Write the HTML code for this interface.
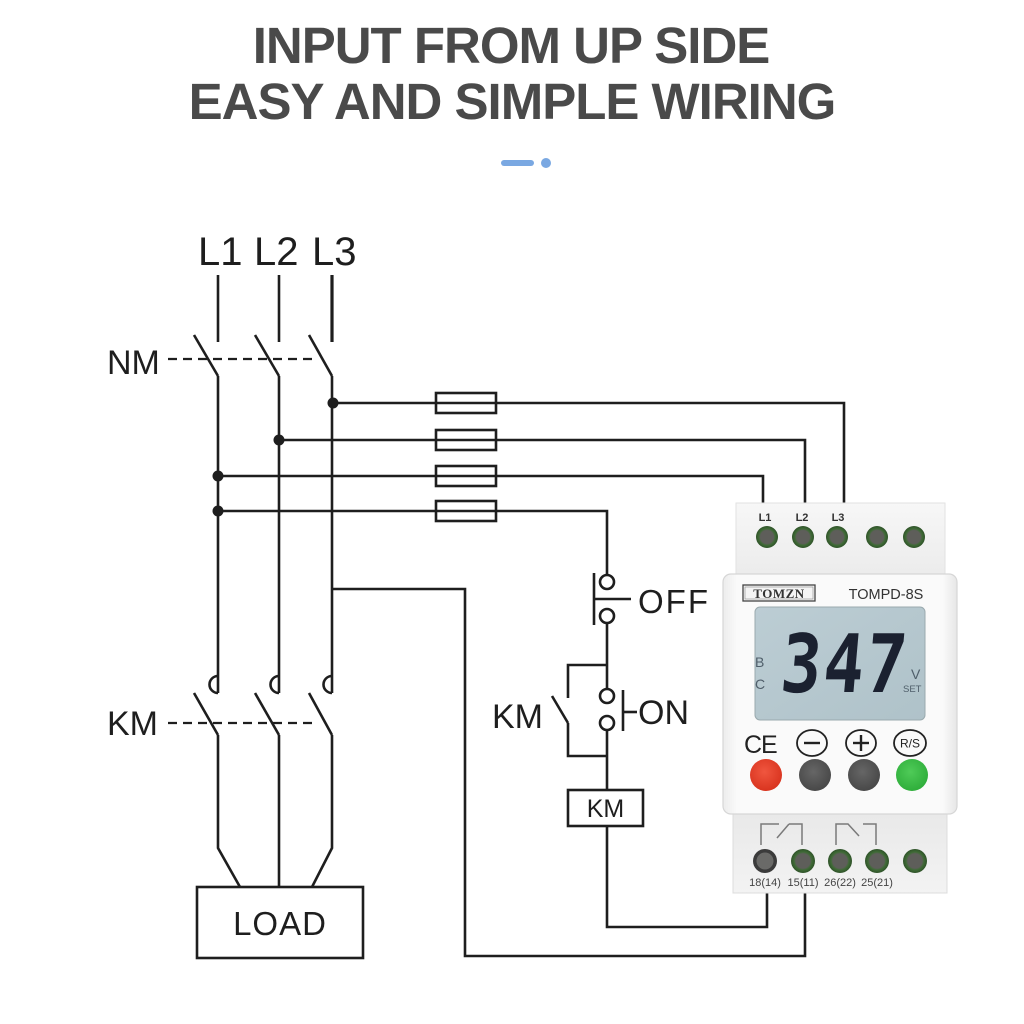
<!DOCTYPE html>
<html><head><meta charset="utf-8"><style>
html,body{margin:0;padding:0;background:#fff;}
svg{display:block;}
</style></head><body>
<svg width="1024" height="1024" viewBox="0 0 1024 1024" xmlns="http://www.w3.org/2000/svg">
<defs>
<linearGradient id="topg" x1="0" y1="0" x2="0" y2="1"><stop offset="0" stop-color="#f7f7f7"/><stop offset="1" stop-color="#ebebeb"/></linearGradient>
<linearGradient id="midg" x1="0" y1="0" x2="1" y2="0"><stop offset="0" stop-color="#ececec"/><stop offset="0.06" stop-color="#fafafa"/><stop offset="0.94" stop-color="#fafafa"/><stop offset="1" stop-color="#e6e6e6"/></linearGradient>
<linearGradient id="botg" x1="0" y1="0" x2="0" y2="1"><stop offset="0" stop-color="#e8e8e8"/><stop offset="1" stop-color="#f3f3f3"/></linearGradient>
<linearGradient id="lcdg" x1="0" y1="0" x2="1" y2="1"><stop offset="0" stop-color="#bccdd4"/><stop offset="1" stop-color="#afc2c9"/></linearGradient>
<radialGradient id="term" cx="0.5" cy="0.5" r="0.5"><stop offset="0.6" stop-color="#5e5e5a"/><stop offset="0.75" stop-color="#3f6b36"/><stop offset="1" stop-color="#2f5229"/></radialGradient>
<radialGradient id="redb" cx="0.45" cy="0.4" r="0.6"><stop offset="0" stop-color="#f0563f"/><stop offset="1" stop-color="#d9341f"/></radialGradient>
<radialGradient id="grayb" cx="0.45" cy="0.4" r="0.6"><stop offset="0" stop-color="#666"/><stop offset="1" stop-color="#484848"/></radialGradient>
<radialGradient id="greenb" cx="0.45" cy="0.4" r="0.6"><stop offset="0" stop-color="#4fcb58"/><stop offset="1" stop-color="#2fae3b"/></radialGradient>
</defs>

<!-- Header -->
<g font-family="'Liberation Sans', Arial, sans-serif" font-weight="bold" fill="#4a4a4a" text-anchor="middle" letter-spacing="-1">
<text x="511" y="63" font-size="51">INPUT FROM UP SIDE</text>
<text x="512" y="119" font-size="51">EASY AND SIMPLE WIRING</text>
</g>
<rect x="501" y="160" width="33" height="6" rx="3" fill="#7aa8e2"/>
<circle cx="546" cy="163" r="5" fill="#7aa8e2"/>

<!-- Labels -->
<g font-family="'Liberation Sans', Arial, sans-serif" fill="#1e1e1e">
<text x="198" y="265" font-size="40">L1</text>
<text x="254" y="265" font-size="40">L2</text>
<text x="312" y="265" font-size="40">L3</text>
<text x="107" y="374" font-size="34">NM</text>
<text x="107" y="735" font-size="34">KM</text>
<text x="492" y="728" font-size="34">KM</text>
<text x="638" y="613" font-size="33" letter-spacing="2">OFF</text>
<text x="638" y="724" font-size="34">ON</text>
<text x="280" y="935" font-size="33" text-anchor="middle" letter-spacing="1">LOAD</text>
<text x="605.5" y="817" font-size="25" text-anchor="middle">KM</text>
</g>

<!-- Wiring -->
<g stroke="#1e1e1e" stroke-width="2.6" fill="none" stroke-linejoin="miter">
<!-- L1 -->
<line x1="218" y1="275" x2="218" y2="342"/>
<line x1="194" y1="335" x2="218" y2="376"/>
<line x1="218" y1="376" x2="218" y2="693"/>
<path d="M218 676 A8.5 8.5 0 0 0 218 693"/>
<line x1="194" y1="693" x2="218" y2="735"/>
<polyline points="218,735 218,848 240,887"/>
<!-- L2 -->
<line x1="279" y1="275" x2="279" y2="342"/>
<line x1="255" y1="335" x2="279" y2="376"/>
<line x1="279" y1="376" x2="279" y2="693"/>
<path d="M279 676 A8.5 8.5 0 0 0 279 693"/>
<line x1="255" y1="693" x2="279" y2="735"/>
<line x1="279" y1="735" x2="279" y2="887"/>
<!-- L3 -->
<line x1="332" y1="275" x2="332" y2="342" stroke-width="3.2"/>
<line x1="309" y1="335" x2="332" y2="376"/>
<line x1="332" y1="376" x2="332" y2="693"/>
<path d="M332 676 A8.5 8.5 0 0 0 332 693"/>
<line x1="309" y1="693" x2="332" y2="735"/>
<polyline points="332,735 332,848 312,887"/>
<!-- dashed mech links -->
<line x1="168" y1="359" x2="318" y2="359" stroke-width="2.2" stroke-dasharray="9,6"/>
<line x1="168" y1="723" x2="318" y2="723" stroke-width="2.2" stroke-dasharray="9,6"/>
<!-- LOAD box -->
<rect x="197" y="887" width="166" height="71"/>
<!-- feed lines -->
<polyline points="333,403 844,403 844,505"/>
<polyline points="279,440 805,440 805,505"/>
<polyline points="218,476 763,476 763,505"/>
<polyline points="218,511 607,511 607,575"/>
<!-- fuses -->
<rect x="436" y="393" width="60" height="20"/>
<rect x="436" y="430" width="60" height="20"/>
<rect x="436" y="466" width="60" height="20"/>
<rect x="436" y="501" width="60" height="20"/>
<!-- OFF button -->
<circle cx="607" cy="582" r="7"/>
<circle cx="607" cy="616" r="7"/>
<line x1="594" y1="573" x2="594" y2="625"/>
<line x1="594" y1="599" x2="631" y2="599"/>
<line x1="607" y1="623" x2="607" y2="689"/>
<!-- KM aux contact branch -->
<polyline points="607,665 568,665 568,698"/>
<line x1="552" y1="696" x2="568" y2="723"/>
<polyline points="568,723 568,756 607,756"/>
<!-- ON button -->
<circle cx="607" cy="696" r="7"/>
<circle cx="607" cy="723" r="7"/>
<line x1="623" y1="690" x2="623" y2="731"/>
<line x1="623" y1="712" x2="637" y2="712"/>
<line x1="607" y1="730" x2="607" y2="790"/>
<!-- KM coil -->
<rect x="568" y="790" width="75" height="36"/>
<polyline points="607,826 607,927 767,927 767,890"/>
<!-- branch from L3 -->
<polyline points="333,589 465,589 465,956 805,956 805,890"/>
</g>
<g fill="#1e1e1e">
<circle cx="333" cy="403" r="5.5"/>
<circle cx="279" cy="440" r="5.5"/>
<circle cx="218" cy="476" r="5.5"/>
<circle cx="218" cy="511" r="5.5"/>
</g>

<!-- Device -->
<rect x="736" y="503" width="209" height="76" fill="url(#topg)" stroke="#e2e2e2" stroke-width="1"/>
<g font-family="'Liberation Sans', Arial, sans-serif" font-size="11" font-weight="bold" fill="#333" text-anchor="middle">
<text x="765" y="521">L1</text>
<text x="802" y="521">L2</text>
<text x="838" y="521">L3</text>
</g>
<g>
<circle cx="767" cy="537" r="11" fill="url(#term)"/>
<circle cx="803" cy="537" r="11" fill="url(#term)"/>
<circle cx="837" cy="537" r="11" fill="url(#term)"/>
<circle cx="877" cy="537" r="11" fill="url(#term)"/>
<circle cx="914" cy="537" r="11" fill="url(#term)"/>
</g>
<rect x="733" y="808" width="214" height="85" fill="url(#botg)" stroke="#dcdcdc" stroke-width="1"/>
<rect x="723" y="574" width="234" height="240" rx="8" fill="url(#midg)" stroke="#d6d6d6" stroke-width="1.2"/>
<rect x="743" y="585" width="72" height="16" fill="#f4f4f4" stroke="#444" stroke-width="1.3"/>
<rect x="745" y="587" width="68" height="12" fill="none" stroke="#888" stroke-width="0.6"/>
<text x="779" y="598" font-family="'Liberation Serif', serif" font-weight="bold" font-size="13" fill="#333" text-anchor="middle" letter-spacing="0.5">TOMZN</text>
<text x="886" y="599" font-family="'Liberation Sans', Arial, sans-serif" font-size="14.5" fill="#333" text-anchor="middle">TOMPD-8S</text>
<rect x="755" y="607" width="170" height="113" rx="5" fill="url(#lcdg)" stroke="#9aa9ae" stroke-width="1"/>
<g font-family="'Liberation Sans', Arial, sans-serif" fill="#4f5e6a">
<text x="755" y="667" font-size="14">B</text>
<text x="755" y="689" font-size="14">C</text>
<text x="911" y="679" font-size="14">V</text>
<text x="903" y="692" font-size="9.5">SET</text>
</g>
<text x="0" y="0" transform="translate(779,692) skewX(-5) scale(1.08,1.3)" font-family="'DejaVu Sans Mono', 'Liberation Mono', monospace" font-weight="bold" font-size="62" fill="#1b2130" letter-spacing="2">347</text>
<text x="744" y="753" font-family="'Liberation Sans', Arial, sans-serif" font-size="25" fill="#222" letter-spacing="-1">CE</text>
<g stroke="#222" stroke-width="1.8" fill="none">
<ellipse cx="812" cy="743" rx="15" ry="13"/>
<line x1="804" y1="743" x2="820" y2="743" stroke-width="2.4"/>
<ellipse cx="861" cy="743" rx="15" ry="13"/>
<line x1="853" y1="743" x2="869" y2="743" stroke-width="2.4"/>
<line x1="861" y1="735" x2="861" y2="751" stroke-width="2.4"/>
<ellipse cx="910" cy="743" rx="16" ry="13"/>
</g>
<text x="910" y="747.5" font-family="'Liberation Sans', Arial, sans-serif" font-size="12" fill="#222" text-anchor="middle">R/S</text>
<circle cx="766" cy="775" r="16" fill="url(#redb)"/>
<circle cx="815" cy="775" r="16" fill="url(#grayb)"/>
<circle cx="864" cy="775" r="16" fill="url(#grayb)"/>
<circle cx="912" cy="775" r="16" fill="url(#greenb)"/>
<g stroke="#7a7a7a" stroke-width="1.5" fill="none">
<polyline points="761,845 761,824 779,824"/>
<line x1="777" y1="838" x2="789" y2="824"/>
<polyline points="789,824 802,824 802,845"/>
<polyline points="836,845 836,824 848,824 859,836"/>
<polyline points="863,824 876,824 876,845"/>
</g>
<circle cx="765" cy="861" r="12" fill="#3b3b3b"/>
<circle cx="765" cy="861" r="8.5" fill="#6a6a68"/>
<circle cx="803" cy="861" r="12" fill="url(#term)"/>
<circle cx="840" cy="861" r="12" fill="url(#term)"/>
<circle cx="877" cy="861" r="12" fill="url(#term)"/>
<circle cx="915" cy="861" r="12" fill="url(#term)"/>
<g font-family="'Liberation Sans', Arial, sans-serif" font-size="11" fill="#444" text-anchor="middle">
<text x="765" y="886">18(14)</text>
<text x="803" y="886">15(11)</text>
<text x="840" y="886">26(22)</text>
<text x="877" y="886">25(21)</text>
</g>
</svg>
</body></html>
